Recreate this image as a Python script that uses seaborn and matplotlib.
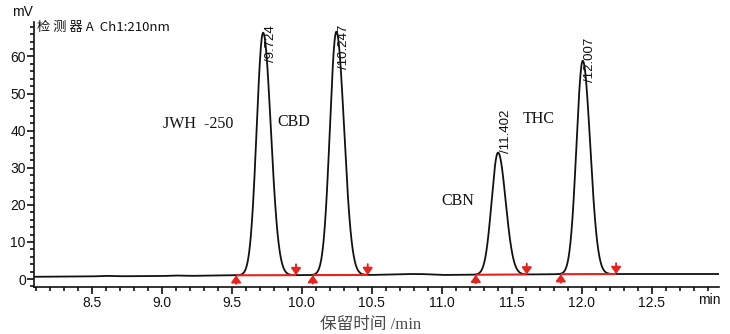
import numpy as np
import pandas as pd
import matplotlib
matplotlib.use("Agg")
import matplotlib.pyplot as plt
from matplotlib.ticker import MultipleLocator
import seaborn as sns

# Peak table: retention time (min), height above baseline (mV), left / right widths (min)
retention_times = [9.724, 10.247, 11.402, 12.007]
peak_heights = [65.4, 65.6, 32.9, 57.5]
sigma_left = [0.046, 0.046, 0.046, 0.045]
sigma_right = [0.055, 0.055, 0.054, 0.053]
peak_labels = ["/9.724", "/10.247", "/11.402", "/12.007"]

# Integration limits for each peak (min)
peak_starts = [9.531, 10.079, 11.243, 11.850]
peak_ends = [9.959, 10.471, 11.607, 12.245]

# Detector baseline (time in min, signal in mV)
baseline_t = [8.08, 8.50, 8.60, 8.70, 9.00, 9.10, 9.20, 9.50, 10.00, 10.50,
              10.75, 10.85, 11.00, 11.50, 12.00, 12.50, 12.98]
baseline_mv = [0.60, 0.70, 0.85, 0.75, 0.80, 0.95, 0.85, 1.00, 1.05, 1.10,
               1.35, 1.35, 1.10, 1.20, 1.35, 1.35, 1.35]

# Compound names
compounds = ["JWH  -250", "CBD", "CBN", "THC"]

x_ticks = [8.5, 9.0, 9.5, 10.0, 10.5, 11.0, 11.5, 12.0, 12.5]
y_ticks = [0, 10, 20, 30, 40, 50, 60]

# Build the trace: baseline plus bi-Gaussian peaks
t = np.arange(8.08, 12.985, 0.002)
signal = np.interp(t, baseline_t, baseline_mv)
for rt, h, sl, sr in zip(retention_times, peak_heights, sigma_left, sigma_right):
    s = np.where(t < rt, sl, sr)
    signal = signal + h * np.exp(-0.5 * ((t - rt) / s) ** 2)
trace = pd.DataFrame({"time": t, "mV": signal})

sns.set_style("ticks")
plt.rcParams["font.family"] = ["Liberation Sans", "Noto Sans CJK SC", "DejaVu Sans"]

fig = plt.figure(figsize=(7.3, 3.34), dpi=100)
ax = fig.add_axes([33.5 / 730, 1 - 286.7 / 334, (719 - 33.5) / 730, (286.7 - 22) / 334])

sns.lineplot(data=trace, x="time", y="mV", ax=ax, color="#111111", linewidth=1.3)

# Integration baselines with start / end markers
red = "#e8221c"
arrow_style = "-|>,head_length=0.45,head_width=0.32"
base_at = lambda x: float(np.interp(x, baseline_t, baseline_mv))
for ts, te in zip(peak_starts, peak_ends):
    ys, ye = base_at(ts), base_at(te)
    ax.plot([ts, te], [ys, ye], color=red, linewidth=1.5, solid_capstyle="butt", zorder=3)
    ax.annotate("", xy=(ts, ys), xytext=(ts, ys - 2.3),
                arrowprops=dict(arrowstyle=arrow_style, color=red, lw=1.4,
                                mutation_scale=9, shrinkA=0, shrinkB=0), zorder=4)
    ax.annotate("", xy=(te, ye), xytext=(te, ye + 2.9),
                arrowprops=dict(arrowstyle=arrow_style, color=red, lw=1.4,
                                mutation_scale=9, shrinkA=0, shrinkB=0), zorder=4)

# Retention-time labels
label_bottoms = [58.5, 56.6, 34.0, 53.1]
for rt, lab, yb in zip(retention_times, peak_labels, label_bottoms):
    ax.text(rt + 0.055, yb, lab, rotation=90, ha="center", va="bottom",
            fontsize=9.5, color="#111111")

# Compound names
name_pos = [(9.259, 41.8), (9.945, 42.4), (11.116, 21.0), (11.695, 43.1)]
for name, (xn, yn) in zip(compounds, name_pos):
    ax.text(xn, yn, name, ha="center", va="center", fontsize=11.5,
            family=["Liberation Serif"], color="#111111")

ax.set_xlim(8.084, 12.98)
ax.set_ylim(-2.07, 69.3)
ax.set_xticks(x_ticks)
ax.set_xticklabels([f"{v:.1f}" for v in x_ticks])
ax.set_yticks(y_ticks)
ax.xaxis.set_minor_locator(MultipleLocator(0.1))
ax.yaxis.set_minor_locator(MultipleLocator(2))
ax.tick_params(axis="both", which="major", direction="out", length=5, width=1.2,
               labelsize=10, colors="#111111", pad=1.5)
ax.tick_params(axis="both", which="minor", direction="out", length=2.8, width=1.2,
               colors="#111111")
ax.tick_params(axis="y", which="major", pad=0.5)
for side in ("top", "right"):
    ax.spines[side].set_visible(False)
for side in ("left", "bottom"):
    ax.spines[side].set_linewidth(1.2)
    ax.spines[side].set_color("#111111")

ax.set_ylabel("")
ax.set_xlabel("保留时间 /min", fontsize=12, family=["Liberation Serif", "Noto Sans CJK SC"],
              color="#4a4a4a", labelpad=5)
ax.xaxis.set_label_coords((371 - 33.5) / (719 - 33.5), -0.115)

ax.text(8.11, 67.9, "检 测 器 A  Ch1:210nm", ha="left", va="center", fontsize=9.5,
        family=["Noto Sans CJK SC", "DejaVu Sans"], color="#111111")
fig.text(22 / 730, 1 - 12 / 334, "mV", ha="center", va="center", fontsize=10, color="#111111")
fig.text(709 / 730, 1 - 300 / 334, "min", ha="center", va="center", fontsize=10, color="#111111")

fig.savefig("out.png", dpi=100)
